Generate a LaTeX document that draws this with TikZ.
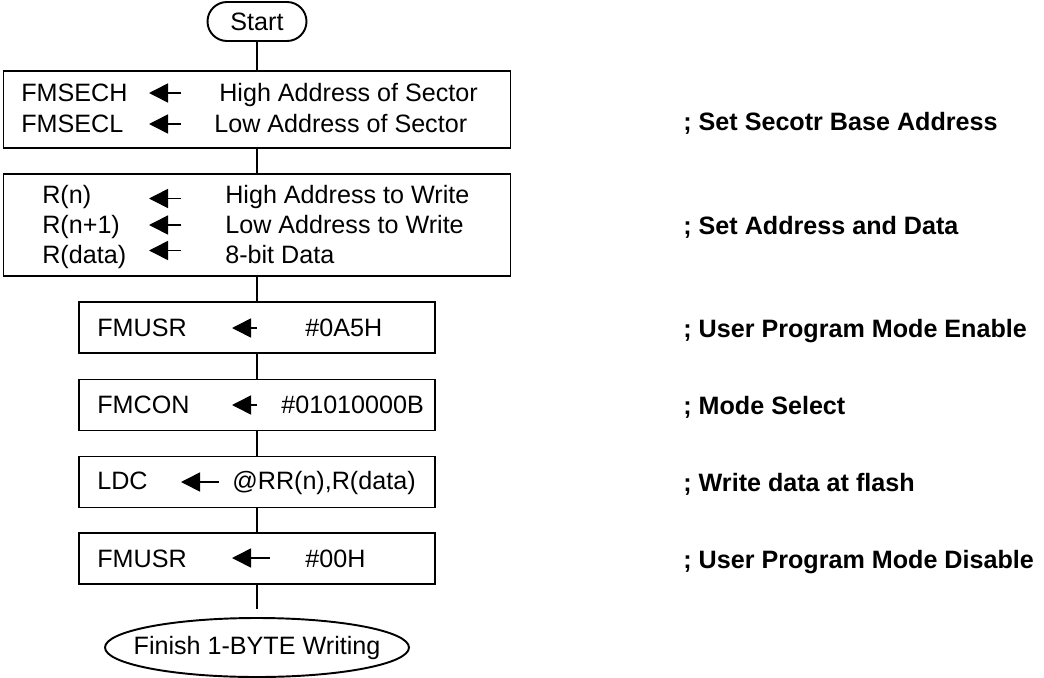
\documentclass[tikz,border=0pt]{standalone}
\usepackage{fontspec}
\setmainfont{Liberation Sans}
\usetikzlibrary{arrows.meta,shapes.geometric}

\begin{document}
\begin{tikzpicture}[
  >={Triangle[length=3.8mm,width=3.8mm]},
  every node/.style={font=\fontsize{14.3}{17}\selectfont},
  terminal/.style={rectangle, rounded corners=3.9mm, draw=black, line width=1.1pt, minimum width=19.8mm, minimum height=7.8mm, inner sep=0pt},
  widebox/.style={rectangle, draw=black, line width=1.1pt, minimum width=101.4mm},
  opbox/.style={rectangle, draw=black, line width=1.1pt, minimum width=71.2mm, minimum height=10.2mm},
  finish/.style={ellipse, draw=black, line width=1.1pt, minimum width=60.8mm, minimum height=11.8mm, inner sep=0pt},
  txt/.style={anchor=base west, inner sep=0pt},
  remark/.style={anchor=base west, inner sep=0pt, font=\fontsize{14.3}{17}\selectfont\bfseries},
  flow/.style={line width=1.1pt},
  load/.style={->, line width=0.9pt},
]
\useasboundingbox (0,0) rectangle (20.88,-13.54);

% ---- terminals and process boxes ----
\node[terminal] (start) at (5.14,-0.43) {Start};
\node[widebox, minimum height=15.4mm] (sector)  at (5.14,-2.19)  {};
\node[widebox, minimum height=20.4mm] (addr)    at (5.14,-4.50)  {};
\node[opbox] (usren)   at (5.14,-6.55)  {};
\node[opbox] (modesel) at (5.14,-8.10)  {};
\node[opbox] (ldc)     at (5.14,-9.64)  {};
\node[opbox] (usrdis)  at (5.14,-11.17) {};
\node[finish, label=center:{Finish 1-BYTE Writing}] (fin) at (5.14,-12.95) {};

% ---- flow lines ----
\draw[flow] (start)   -- (sector);
\draw[flow] (sector)  -- (addr);
\draw[flow] (addr)    -- (usren);
\draw[flow] (usren)   -- (modesel);
\draw[flow] (modesel) -- (ldc);
\draw[flow] (ldc)     -- (usrdis);
\draw[flow, shorten >=1.6mm] (usrdis) -- (fin);

% ---- sector base address ----
\node[txt] (sechl) at (0.42,-2.03) {FMSECH};
\node[txt] (secll) at (0.42,-2.65) {FMSECL};
\node[txt] (sechr) at (4.38,-2.03) {High Address of Sector};
\node[txt] (seclr) at (4.28,-2.65) {Low Address of Sector};
\coordinate (s1r) at (3.62,-1.86); \coordinate (s1l) at (2.98,-1.86);
\coordinate (s2r) at (3.62,-2.48); \coordinate (s2l) at (2.98,-2.48);
\draw[load] (s1r) -- (s1l);
\draw[load] (s2r) -- (s2l);

% ---- address and data ----
\node[txt] (rnl)  at (0.84,-4.06) {R(n)};
\node[txt] (rn1l) at (0.84,-4.66) {R(n+1)};
\node[txt] (rdl)  at (0.84,-5.26) {R(data)};
\node[txt] (rnr)  at (4.50,-4.06) {High Address to Write};
\node[txt] (rn1r) at (4.50,-4.66) {Low Address to Write};
\node[txt] (rdr)  at (4.50,-5.26) {8-bit Data};
\coordinate (a1r) at (3.62,-3.97); \coordinate (a1l) at (2.98,-3.97);
\coordinate (a2r) at (3.62,-4.50); \coordinate (a2l) at (2.98,-4.50);
\coordinate (a3r) at (3.62,-5.01); \coordinate (a3l) at (2.98,-5.01);
\draw[load] (a1r) -- (a1l);
\draw[load] (a2r) -- (a2l);
\draw[load] (a3r) -- (a3l);

% ---- user program mode / mode select / write / disable ----
\node[txt] (enl)  at (1.94,-6.72)  {FMUSR};
\node[txt] (enr)  at (6.10,-6.72)  {\#0A5H};
\node[txt] (mdl)  at (1.94,-8.26)  {FMCON};
\node[txt] (mdr)  at (5.62,-8.26)  {\#01010000B};
\node[txt] (wrl)  at (1.94,-9.78)  {LDC};
\node[txt] (wrr)  at (4.64,-9.78)  {@RR(n),R(data)};
\node[txt] (dsl)  at (1.94,-11.34) {FMUSR};
\node[txt] (dsr)  at (6.10,-11.34) {\#00H};
\coordinate (enar) at (5.14,-6.56);  \coordinate (enal) at (4.64,-6.56);
\coordinate (mdar) at (5.14,-8.10);  \coordinate (mdal) at (4.64,-8.10);
\coordinate (wrar) at (4.38,-9.64);  \coordinate (wral) at (3.62,-9.64);
\coordinate (dsar) at (5.40,-11.16); \coordinate (dsal) at (4.64,-11.16);
\draw[load] (enar) -- (enal);
\draw[load] (mdar) -- (mdal);
\draw[load] (wrar) -- (wral);
\draw[load] (dsar) -- (dsal);

% ---- remarks ----
\node[remark] (rm1) at (13.66,-2.62)  {; Set Secotr Base Address};
\node[remark] (rm2) at (13.66,-4.68)  {; Set Address and Data};
\node[remark] (rm3) at (13.66,-6.74)  {; User Program Mode Enable};
\node[remark] (rm4) at (13.66,-8.28)  {; Mode Select};
\node[remark] (rm5) at (13.66,-9.82)  {; Write data at flash};
\node[remark] (rm6) at (13.66,-11.36) {; User Program Mode Disable};

\end{tikzpicture}
\end{document}
